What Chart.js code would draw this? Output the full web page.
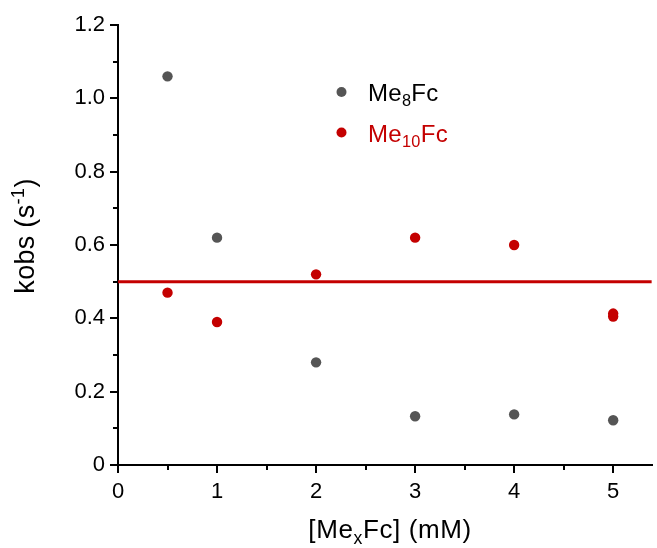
<!DOCTYPE html>
<html>
<head>
<meta charset="utf-8">
<script src="https://cdn.jsdelivr.net/npm/chart.js@4.4.1/dist/chart.umd.min.js"></script>
<style>
  html, body { margin: 0; padding: 0; background: #fff; }
  #wrap { width: 657px; height: 548px; position: relative; }
</style>
</head>
<body>
<div id="wrap"><canvas id="c" width="657" height="548"></canvas></div>
<script>
// Concentrations of the ferrocene derivative (mM)
const me8Conc   = [0.5, 1, 2, 3, 4, 5];
const me8Kobs   = [1.06, 0.62, 0.28, 0.133, 0.138, 0.122];
const me10Conc  = [0.5, 1, 2, 3, 4, 5, 5];
const me10Kobs  = [0.47, 0.39, 0.52, 0.62, 0.60, 0.413, 0.405];
// Mean level for Me10Fc
const meanX     = [0, 5.39];
const meanY     = [0.5, 0.5];

const xTicks = [0, 1, 2, 3, 4, 5];
const yTicks = [0, 0.2, 0.4, 0.6, 0.8, 1.0, 1.2];
const xMinor = [0.5, 1.5, 2.5, 3.5, 4.5];
const yMinor = [0.1, 0.3, 0.5, 0.7, 0.9, 1.1];

const GRAY = '#555555';
const RED = '#c40000';
const FONT = '"Liberation Sans", Arial, sans-serif';

const pts = (xs, ys) => xs.map((x, i) => ({ x, y: ys[i] }));

// Draws text pieces with sub/superscripts in sequence
function drawRich(ctx, parts, x, y, size, color, align, spacing) {
  ctx.save();
  ctx.fillStyle = color;
  ctx.textBaseline = 'alphabetic';
  ctx.letterSpacing = (spacing || 0) + 'px';
  let total = 0;
  const measured = parts.map(p => {
    const s = p.s ? size * 0.68 : size;
    ctx.font = s + 'px ' + FONT;
    const w = ctx.measureText(p.t).width;
    total += w;
    return { ...p, size: s, w };
  });
  let cx = align === 'center' ? x - total / 2 : x;
  ctx.textAlign = 'left';
  for (const p of measured) {
    ctx.font = p.size + 'px ' + FONT;
    let dy = 0;
    if (p.s === 'sub') dy = size * 0.22;
    if (p.s === 'sup') dy = -size * 0.36;
    ctx.fillText(p.t, cx, y + dy);
    cx += p.w;
  }
  ctx.restore();
}

const decorations = {
  id: 'decorations',
  afterDraw(chart) {
    const ctx = chart.ctx;
    const xs = chart.scales.x, ys = chart.scales.y;
    ctx.save();
    ctx.strokeStyle = '#000';
    ctx.lineWidth = 2;
    // minor ticks
    xMinor.forEach(v => {
      const px = Math.round(xs.getPixelForValue(v));
      ctx.beginPath();
      ctx.moveTo(px, ys.bottom);
      ctx.lineTo(px, ys.bottom + 5);
      ctx.stroke();
    });
    yMinor.forEach(v => {
      const py = Math.round(ys.getPixelForValue(v));
      ctx.beginPath();
      ctx.moveTo(xs.left, py);
      ctx.lineTo(xs.left - 5, py);
      ctx.stroke();
    });
    ctx.restore();

    // legend
    const lx = 341.5;
    [[GRAY, '#000', [{ t: 'Me' }, { t: '8', s: 'sub' }, { t: 'Fc' }], 92, 101],
     [RED, RED, [{ t: 'Me' }, { t: '10', s: 'sub' }, { t: 'Fc' }], 132.5, 142]].forEach(([col, tcol, parts, py, base]) => {
      ctx.save();
      ctx.fillStyle = col;
      ctx.beginPath();
      ctx.arc(lx, py, 5, 0, Math.PI * 2);
      ctx.fill();
      ctx.restore();
      drawRich(ctx, parts, 368, base, 24, tcol, 'left', 0.3);
    });

    // axis titles
    drawRich(ctx, [{ t: '[Me' }, { t: 'x', s: 'sub' }, { t: 'Fc] (mM)' }],
      390, 538, 26, '#000', 'center', 0.6);
    ctx.save();
    ctx.translate(34, 236);
    ctx.rotate(-Math.PI / 2);
    drawRich(ctx, [{ t: 'kobs (s' }, { t: '-1', s: 'sup' }, { t: ')' }], 0, 0, 27, '#000', 'center', 0.3);
    ctx.restore();
  }
};

new Chart(document.getElementById('c'), {
  type: 'scatter',
  data: {
    datasets: [
      { label: 'Me8Fc', data: pts(me8Conc, me8Kobs), backgroundColor: GRAY, borderColor: GRAY,
        pointRadius: 5.2, pointHoverRadius: 5.2, borderWidth: 0 },
      { label: 'Me10Fc', data: pts(me10Conc, me10Kobs), backgroundColor: RED, borderColor: RED,
        pointRadius: 5.2, pointHoverRadius: 5.2, borderWidth: 0 },
      { label: 'mean', type: 'line', data: pts(meanX, meanY), borderColor: RED, borderWidth: 3,
        pointRadius: 0, fill: false }
    ]
  },
  options: {
    responsive: false,
    animation: false,
    events: [],
    layout: { padding: { top: 25, right: 0, left: 0, bottom: 0 } },
    plugins: { legend: { display: false }, tooltip: { enabled: false } },
    scales: {
      x: {
        type: 'linear', min: 0, max: 5.39,
        afterBuildTicks: s => { s.ticks = xTicks.map(v => ({ value: v })); },
        afterFit: s => { s.height = 83; },
        grid: { display: true, drawOnChartArea: false, drawTicks: true, tickLength: 8, color: '#000', lineWidth: 2 },
        border: { display: true, color: '#000', width: 2 },
        ticks: { color: '#000', font: { family: FONT, size: 22 }, padding: 6, maxRotation: 0 }
      },
      y: {
        type: 'linear', min: 0, max: 1.2,
        afterBuildTicks: s => { s.ticks = yTicks.map(v => ({ value: v })); },
        afterFit: s => { s.width = 118; },
        grid: { display: true, drawOnChartArea: false, drawTicks: true, tickLength: 8, color: '#000', lineWidth: 2 },
        border: { display: true, color: '#000', width: 2 },
        ticks: { color: '#000', font: { family: FONT, size: 22 }, padding: 5,
          callback: v => v === 0 ? '0' : v.toFixed(1) }
      }
    }
  },
  plugins: [decorations]
});
</script>
</body>
</html>
